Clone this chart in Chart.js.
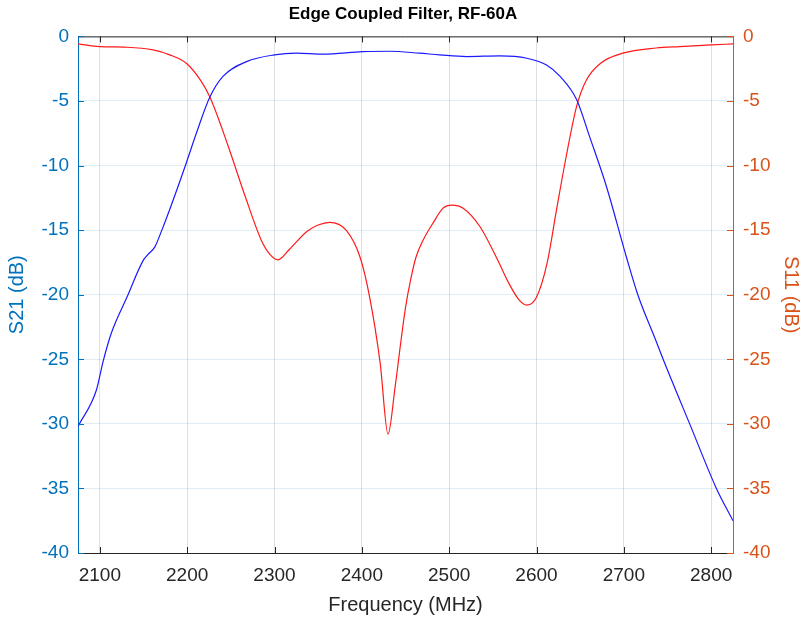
<!DOCTYPE html>
<html>
<head>
<meta charset="utf-8">
<script src="https://cdn.jsdelivr.net/npm/chart.js@4.4.1/dist/chart.umd.min.js"></script>
<style>
  html, body { margin: 0; padding: 0; background: #fff; }
  #wrap { width: 806px; height: 620px; }
</style>
</head>
<body>
<div id="wrap"><canvas id="filterChart"></canvas></div>
<script>
// values
const freqS21 = [2075, 2096, 2104, 2113, 2131, 2150, 2155, 2163, 2171, 2180, 2199, 2211, 2226, 2241, 2268, 2300, 2325, 2356, 2401, 2432, 2466, 2489, 2520, 2558, 2589, 2611, 2627, 2646, 2661, 2680, 2703, 2716, 2737, 2745, 2776, 2806, 2825];
const s21 = [-30.2, -27.4, -25.1, -23.0, -20.2, -17.3, -16.9, -16.3, -15.0, -13.4, -9.8, -7.4, -4.7, -3.1, -1.95, -1.43, -1.3, -1.38, -1.18, -1.15, -1.3, -1.43, -1.56, -1.51, -1.69, -2.2, -3.1, -4.9, -7.8, -11.6, -17.1, -20.0, -23.6, -25.0, -30.1, -35.0, -37.5];

const freqS11 = [2075, 2100, 2131, 2161, 2180, 2199, 2215, 2226, 2247, 2266, 2285, 2295, 2304, 2317, 2337, 2350, 2363, 2382, 2398, 2409, 2421, 2430, 2438, 2444, 2450, 2456, 2462, 2470, 2482, 2493, 2503, 2516, 2535, 2554, 2569, 2580, 2589, 2600, 2612, 2623, 2634, 2646, 2657, 2673, 2699, 2737, 2764, 2800, 2825];
const s11 = [-0.58, -0.79, -0.84, -1.05, -1.43, -2.08, -3.37, -4.7, -8.5, -12.3, -15.8, -16.9, -17.3, -16.5, -15.1, -14.6, -14.4, -15.0, -17.1, -20.2, -25.3, -30.8, -27.2, -24.0, -21.0, -18.8, -17.1, -15.8, -14.4, -13.3, -13.06, -13.3, -14.7, -17.1, -19.2, -20.4, -20.8, -20.2, -17.6, -13.4, -9.3, -5.4, -3.4, -2.1, -1.3, -0.9, -0.79, -0.66, -0.58];

const freqTicks = [2100, 2200, 2300, 2400, 2500, 2600, 2700, 2800];
const dbTicks = [0, -5, -10, -15, -20, -25, -30, -35, -40];

const blueAxis = '#0072BD';
const orangeAxis = '#D95319';
const darkAxis = '#262626';

Chart.defaults.font.family = '"Liberation Sans", Arial, Helvetica, sans-serif';

// MATLAB style box + inward tick marks
const boxTicks = {
    id: 'boxTicks',
    afterDraw(chart) {
        const { ctx, chartArea: a, scales } = chart;
        const len = 6;
        ctx.save();
        ctx.lineWidth = 1;
        ctx.strokeStyle = darkAxis;
        ctx.beginPath();
        ctx.moveTo(a.left, a.top + 0.5);
        ctx.lineTo(a.right, a.top + 0.5);
        freqTicks.forEach(v => {
            const x = Math.round(scales.x.getPixelForValue(v)) + 0.5;
            ctx.moveTo(x, a.bottom); ctx.lineTo(x, a.bottom - len);
            ctx.moveTo(x, a.top); ctx.lineTo(x, a.top + len);
        });
        ctx.stroke();
        ctx.strokeStyle = blueAxis;
        ctx.beginPath();
        dbTicks.forEach(v => {
            const y = Math.round(scales.y.getPixelForValue(v)) + 0.5;
            ctx.moveTo(a.left, y); ctx.lineTo(a.left + len, y);
        });
        ctx.stroke();
        ctx.strokeStyle = orangeAxis;
        ctx.beginPath();
        dbTicks.forEach(v => {
            const y = Math.round(scales.y1.getPixelForValue(v)) + 0.5;
            ctx.moveTo(a.right, y); ctx.lineTo(a.right - len, y);
        });
        ctx.stroke();
        ctx.restore();
    }
};

const ctx = document.getElementById('filterChart').getContext('2d');
new Chart(ctx, {
    type: 'line',
    data: {
        datasets: [{
            label: 'S21',
            data: freqS21.map((f, i) => ({ x: f, y: s21[i] })),
            borderColor: '#1a1aff',
            borderWidth: 1.2,
            pointRadius: 0,
            cubicInterpolationMode: 'monotone',
            yAxisID: 'y'
        }, {
            label: 'S11',
            data: freqS11.map((f, i) => ({ x: f, y: s11[i] })),
            borderColor: '#ff1a1a',
            borderWidth: 1.2,
            pointRadius: 0,
            cubicInterpolationMode: 'monotone',
            yAxisID: 'y1'
        }]
    },
    options: {
        responsive: true,
        maintainAspectRatio: false,
        animation: false,
        layout: { padding: 0 },
        plugins: {
            legend: { display: false },
            tooltip: { enabled: false },
            title: {
                display: true,
                text: 'Edge Coupled Filter, RF-60A',
                color: '#000',
                font: { size: 17, weight: 'bold' },
                padding: { top: 4, bottom: 12 }
            }
        },
        scales: {
            x: {
                type: 'linear',
                min: 2075,
                max: 2825,
                afterBuildTicks: s => { s.ticks = freqTicks.map(v => ({ value: v })); },
                afterFit: s => { s.height = 67; },
                ticks: { color: darkAxis, font: { size: 19 }, padding: 11, maxRotation: 0, callback: v => String(v) },
                grid: { color: 'rgba(38,38,38,0.15)', drawTicks: false },
                border: { color: darkAxis, width: 1 },
                title: {
                    display: true,
                    text: 'Frequency (MHz)',
                    color: darkAxis,
                    font: { size: 20 },
                    padding: { top: 0, bottom: 3 }
                }
            },
            y: {
                position: 'left',
                min: -40,
                max: 0,
                afterBuildTicks: s => { s.ticks = dbTicks.map(v => ({ value: v })); },
                afterFit: s => { s.width = 78; },
                ticks: { color: blueAxis, font: { size: 19 }, padding: 9, callback: v => String(v) },
                grid: { color: 'rgba(0,114,189,0.13)', drawTicks: false },
                border: { color: blueAxis, width: 1 },
                title: {
                    display: true,
                    text: 'S21 (dB)',
                    color: blueAxis,
                    font: { size: 20 },
                    padding: { top: 5, bottom: 0 }
                }
            },
            y1: {
                position: 'right',
                min: -40,
                max: 0,
                afterBuildTicks: s => { s.ticks = dbTicks.map(v => ({ value: v })); },
                afterFit: s => { s.width = 73; },
                ticks: { color: orangeAxis, font: { size: 19 }, padding: 10, callback: v => String(v) },
                grid: { display: false, drawTicks: false },
                border: { color: orangeAxis, width: 1 },
                title: {
                    display: true,
                    text: 'S11 (dB)',
                    color: orangeAxis,
                    font: { size: 20 },
                    padding: { top: 3, bottom: 0 }
                }
            }
        }
    },
    plugins: [boxTicks]
});
</script>
</body>
</html>
